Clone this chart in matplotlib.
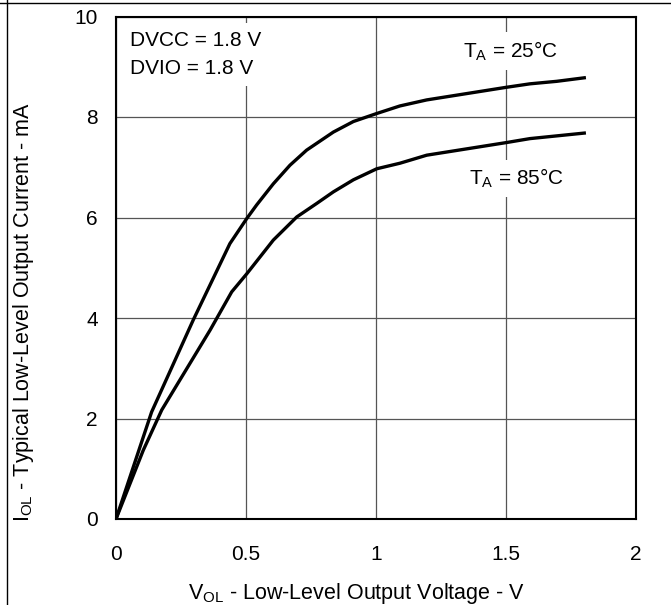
import matplotlib
matplotlib.use("Agg")
import matplotlib.pyplot as plt
from matplotlib.lines import Line2D

plt.rcParams['font.family'] = ['Liberation Sans', 'DejaVu Sans']
plt.rcParams['mathtext.default'] = 'regular'

# V_OL (V) vs I_OL (mA)
vol_25 = [0, 0.137, 0.297, 0.438, 0.503, 0.541, 0.605, 0.669, 0.733, 0.836, 0.913, 1.003,
          1.092, 1.195, 1.5, 1.592, 1.695, 1.801]
iol_25 = [0, 2.13, 3.96, 5.48, 5.98, 6.25, 6.67, 7.04, 7.34, 7.70, 7.91, 8.07,
          8.22, 8.34, 8.59, 8.66, 8.71, 8.78]

vol_85 = [0, 0.105, 0.176, 0.362, 0.445, 0.503, 0.605, 0.695, 0.772, 0.836, 0.913, 1.003,
          1.092, 1.195, 1.5, 1.592, 1.801]
iol_85 = [0, 1.37, 2.17, 3.76, 4.52, 4.88, 5.55, 6.01, 6.28, 6.51, 6.75, 6.97,
          7.08, 7.24, 7.49, 7.57, 7.68]

x_ticks = [0, 0.5, 1, 1.5, 2]
x_tick_labels = ['0', '0.5', '1', '1.5', '2']
y_ticks = [0, 2, 4, 6, 8, 10]

fig = plt.figure(figsize=(6.71, 6.05), dpi=100)
ax = fig.add_axes([116 / 671, 86 / 605, 520 / 671, 502.5 / 605])

ax.plot(vol_25, iol_25, color='black', lw=2.4, solid_joinstyle='round', zorder=3)
ax.plot(vol_85, iol_85, color='black', lw=2.4, solid_joinstyle='round', zorder=3)

ax.set_xlim(0, 2)
ax.set_ylim(0, 10)
ax.set_xticks(x_ticks)
ax.set_xticklabels(x_tick_labels)
ax.set_yticks(y_ticks)
ax.tick_params(axis='both', length=0, labelsize=15)
ax.tick_params(axis='x', pad=19)
ax.tick_params(axis='y', pad=13)
ax.grid(True, color='#555555', lw=0.9)
ax.set_axisbelow(True)
for s in ax.spines.values():
    s.set_linewidth(1.5)
    s.set_zorder(4)

ax.set_xlabel(r'V$_{OL}$ - Low-Level Output Voltage - V', fontsize=15.5)
ax.set_ylabel(r'I$_{OL}$ - Typical Low-Level Output Current - mA', fontsize=15.5)
ax.xaxis.set_label_coords(0.4625, -0.123)
ax.yaxis.set_label_coords(-0.153, 0.412)

box = dict(boxstyle='square,pad=0.35', fc='white', ec='none')
ax.text(0.054, 9.42, 'DVCC = 1.8 V', fontsize=15, ha='left', va='baseline', bbox=box, zorder=2)
ax.text(0.054, 8.85, 'DVIO = 1.8 V', fontsize=15, ha='left', va='baseline', bbox=box, zorder=2)
ax.text(1.515, 9.19, r'T$_A$ = 25°C', fontsize=15, ha='center', va='baseline', bbox=box, zorder=2)
ax.text(1.540, 6.65, r'T$_A$ = 85°C', fontsize=15, ha='center', va='baseline', bbox=box, zorder=2)

# frame lines at the top and left of the picture
fig.add_artist(Line2D([0, 1], [1 - 3.3 / 605] * 2, color='black', lw=1.0))
fig.add_artist(Line2D([6.7 / 671] * 2, [0, 1], color='black', lw=1.0))

fig.savefig('out.png', dpi=100)
